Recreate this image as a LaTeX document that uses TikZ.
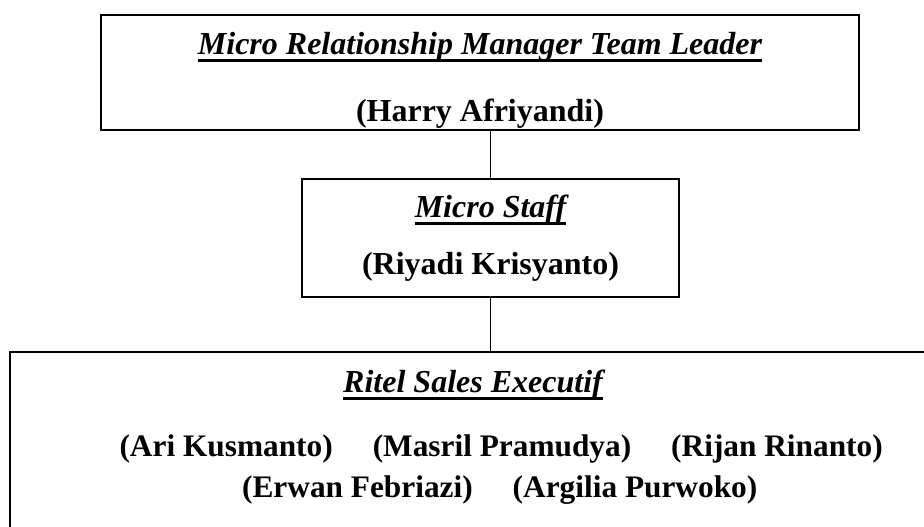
\documentclass[tikz,border=0pt]{standalone}
\usepackage{fontspec}
\setmainfont{Liberation Serif}
\usetikzlibrary{positioning}

\begin{document}
\begin{tikzpicture}[
      x=0.75pt, y=-0.75pt,
      node distance=29.6pt,
      kotak/.style={draw, line width=1.5pt, rectangle, inner sep=0pt},
      jabatan/.style={font=\fontsize{24}{28}\selectfont\bfseries\itshape, inner sep=0pt, anchor=base},
      nama/.style={font=\fontsize{24}{28}\selectfont\bfseries, inner sep=0pt, anchor=base},
      anggota/.style={font=\fontsize{23.5}{28}\selectfont\bfseries, inner sep=0pt},
      garis/.style={line width=0.75pt},
      bawahi/.style={line width=2.25pt},
    ]
      \clip (0,0) rectangle (924,527);
      \node[kotak, minimum width=568.5pt, minimum height=86.25pt] (atas) at (480,72.5) {};
      \node[kotak, minimum width=282.75pt, minimum height=88.5pt] (tengah) at (490.5,238) {};
      \node[kotak, minimum width=712.5pt, minimum height=156pt] (bawah) at (485,456) {};

      \node[jabatan] (j1) at (480,55) {Micro Relationship Manager Team Leader};
      \node[nama] (n1) at (480,122) {(Harry Afriyandi)};
      \node[jabatan] (j2) at (490.5,218) {Micro Staff};
      \node[nama] (n2) at (490.5,275) {(Riyadi Krisyanto)};
      \node[jabatan] (j3) at (473,392) {Ritel Sales Executif};

      \node[anggota, anchor=base] (a2) at (502,456) {(Masril Pramudya)};
      \node[anggota, base left=of a2] (a1) {(Ari Kusmanto)};
      \node[anggota, base right=of a2] (a3) {(Rijan Rinanto)};
      \node[anggota, anchor=base east] (a4) at (473,497) {(Erwan Febriazi)};
      \node[anggota, base right=of a4] (a5) {(Argilia Purwoko)};

      \foreach \j in {j1,j2,j3}
        \draw[bawahi] ([yshift=-4.5pt]\j.base west) -- ([yshift=-4.5pt]\j.base east);

      \draw[garis] (tengah.north) -- (tengah.north |- atas.south);
      \draw[garis] (tengah.south) -- (tengah.south |- bawah.north);
\end{tikzpicture}
\end{document}
